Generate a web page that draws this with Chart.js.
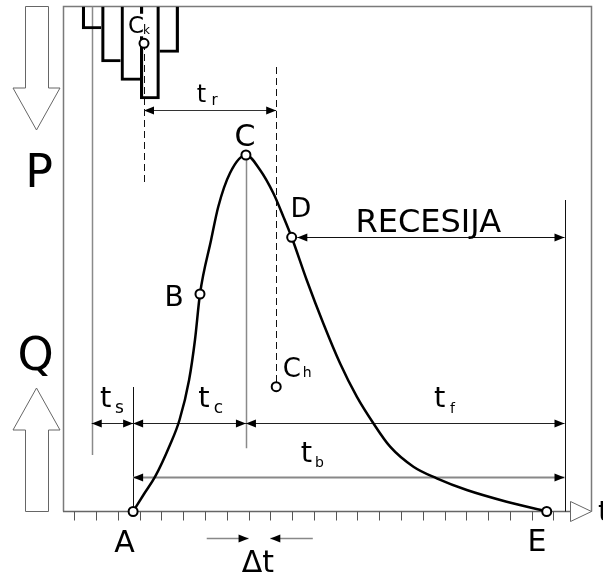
<!DOCTYPE html>
<html>
<head>
<meta charset="utf-8">
<script src="https://cdn.jsdelivr.net/npm/chart.js@4.4.0/dist/chart.umd.min.js"></script>
<style>
  html, body { margin: 0; padding: 0; background: #fff; }
  #wrap { width: 603px; height: 576px; }
</style>
</head>
<body>
<div id="wrap"><canvas id="myChart" width="603" height="576"></canvas></div>
<script>
// Hydrograph Q(t): x in time steps (one tick = dt), y in relative units
const curveX = [2.70, 3.20, 3.71, 4.39, 4.83, 5.27, 5.54, 5.77, 6.28, 6.61, 7.15, 7.88,
                8.53, 9.14, 9.60, 9.98, 10.67, 11.43, 12.20, 12.97, 13.73, 14.50, 15.57, 16.64, 18.02, 19.85, 21.69];
const curveY = [0, 3.5, 6.96, 13.3, 18.3, 26.3, 34.3, 43.5, 54.3, 60.96, 67.7, 71.3,
                68.3, 63.64, 58.96, 54.84, 46.3, 37.64, 29.64, 22.96, 17.64, 12.96, 8.96, 6.64, 4.3, 1.96, 0];

// characteristic points on the hydrograph
const pointNames = ['A', 'B', 'C', 'D', 'E'];
const pointX = [2.70, 5.77, 7.88, 9.98, 21.69];
const pointY = [0, 43.5, 71.3, 54.84, 0];

// rainfall P hanging from the top of the frame
const rainX = [0.80, 1.69, 2.58, 3.47, 4.35];
const rainDepth = [4.5, 11.1, 14.8, 18.5, 9.2];
const TOP = 101;

// centroids of rainfall (Ck) and of runoff (Ch)
const centroidNames = ['Ck', 'Ch'];
const centroidX = [3.20, 9.27];
const centroidY = [93.64, 24.96];

// time axis ticks
const tickValues = [0, 1, 2, 3, 4, 5, 6, 7, 8, 9, 10, 11, 12, 13, 14, 15, 16, 17, 18, 19, 20, 21, 22];

// guide lines and dimension arrows (data units)
const xEnd = 22.507;
const vLines = [
  { x: 0.80, y0: 11.3, y1: TOP, color: '#8a8a8a', w: 1.5 },
  { x: pointX[0], y0: 0, y1: 24.9, color: '#111', w: 1 },
  { x: pointX[2], y0: 12.64, y1: pointY[2], color: '#8a8a8a', w: 1.5 },
  { x: xEnd, y0: 0, y1: 62.3, color: '#111', w: 1 },
  { x: centroidX[0], y0: 65.9, y1: 92.7, color: '#111', w: 1, dash: true },
  { x: centroidX[1], y0: 25.9, y1: 89.3, color: '#111', w: 1, dash: true }
];
const hArrows = [
  { y: 80.3, x0: centroidX[0], x1: centroidX[1], color: '#333', w: 1, both: true },
  { y: 54.84, x0: 10.24, x1: xEnd, color: '#111', w: 1, both: true },
  { y: 17.64, x0: 0.80, x1: pointX[0], color: '#222', w: 1, both: true },
  { y: 17.64, x0: pointX[0], x1: pointX[2], color: '#222', w: 1, both: true },
  { y: 17.64, x0: pointX[2], x1: xEnd, color: '#222', w: 1, both: true },
  { y: 6.96, x0: pointX[0], x1: xEnd, color: '#888', w: 2, both: true },
  { y: -5.24, x0: 6.08, x1: 8, color: '#888', w: 1.5, both: false },
  { y: -5.24, x0: 10.95, x1: 9, color: '#888', w: 1.5, both: false }
];
const labels = [
  { t: 'P', x: -1.612, y: 64.96, size: 46, align: 'center' },
  { t: 'Q', x: -1.781, y: 28.36, size: 46, align: 'center' },
  { t: 'A', x: 2.305, y: -8.0, size: 30, align: 'center' },
  { t: 'E', x: 21.244, y: -7.9, size: 30, align: 'center' },
  { t: 'C', x: 7.837, y: 73.1, size: 30, align: 'center' },
  { t: 'B', x: 4.577, y: 41.16, size: 28, align: 'center' },
  { t: 'D', x: 10.409, y: 58.96, size: 27, align: 'center' },
  { t: 'RECESIJA', x: 16.253, y: 55.96, size: 32, align: 'center' },
  { t: 'C', sub: 'k', x: 2.466, y: 95.64, size: 23, subSize: 12, dx: -1, dy: 0.7, box: true },
  { t: 'C', sub: 'h', x: 9.573, y: 26.96, size: 26, subSize: 14, dx: 1.9, dy: 0 },
  { t: 't', sub: 'r', x: 5.62, y: 81.96, size: 24, subSize: 15, dx: 5.5, dy: 3.3 },
  { t: 't', sub: 's', x: 1.180, y: 20.96, size: 29, subSize: 17, dx: 3.6, dy: 6 },
  { t: 't', sub: 'c', x: 5.693, y: 20.96, size: 29, subSize: 17, dx: 4, dy: 6 },
  { t: 't', sub: 'f', x: 16.515, y: 20.96, size: 29, subSize: 14, dx: 4.6, dy: 6.3 },
  { t: 't', sub: 'b', x: 10.395, y: 9.96, size: 29, subSize: 14, dx: 3, dy: 5 },
  { t: '\u0394t', x: 7.686, y: -12.04, size: 30 },
  { t: 't', x: 24.045, y: -1.9, size: 29 }
];

const FONT = '"DejaVu Sans", Verdana, sans-serif';

function rainBorder(i) {
  const n = rainDepth.length;
  const w = 2.5;
  const left = (i === 0 || rainDepth[i] >= rainDepth[i - 1]) ? w : 0;
  const right = (i === n - 1 || rainDepth[i] > rainDepth[i + 1]) ? w : 0;
  return { top: 0, bottom: w, left: left, right: right };
}

function head(ctx, x, y, dir) {
  ctx.beginPath();
  ctx.moveTo(x, y);
  ctx.lineTo(x - dir * 10, y - 4);
  ctx.lineTo(x - dir * 10, y + 4);
  ctx.closePath();
  ctx.fillStyle = '#000';
  ctx.fill();
}

const hydroPlugin = {
  id: 'hydro',
  beforeDatasetsDraw(chart) {
    const ctx = chart.ctx;
    const xs = chart.scales.x, ys = chart.scales.y;
    const X = v => xs.getPixelForValue(v);
    const Y = v => ys.getPixelForValue(v);
    const a = chart.chartArea;
    ctx.save();
    // frame
    ctx.strokeStyle = '#7a7a7a';
    ctx.lineWidth = 1.5;
    ctx.beginPath();
    ctx.moveTo(a.left + 0.5, Y(0));
    ctx.lineTo(a.left + 0.5, a.top);
    ctx.lineTo(a.right, a.top);
    ctx.lineTo(a.right, Y(0));
    ctx.stroke();
    // time axis
    ctx.strokeStyle = '#666';
    ctx.beginPath();
    ctx.moveTo(a.left, Y(0));
    ctx.lineTo(a.right - 21, Y(0));
    ctx.stroke();
    ctx.lineWidth = 1;
    ctx.strokeStyle = '#555';
    tickValues.forEach(v => {
      const px = Math.round(X(v)) + 0.5;
      ctx.beginPath();
      ctx.moveTo(px, Y(0));
      ctx.lineTo(px, Y(0) + 9);
      ctx.stroke();
    });
    // vertical guides
    vLines.forEach(l => {
      ctx.strokeStyle = l.color;
      ctx.lineWidth = l.w;
      ctx.setLineDash(l.dash ? [7, 4] : []);
      const px = Math.round(X(l.x)) + 0.5;
      ctx.beginPath();
      ctx.moveTo(px, Y(l.y0));
      ctx.lineTo(px, Y(l.y1));
      ctx.stroke();
    });
    ctx.setLineDash([]);
    // dimension arrows
    hArrows.forEach(h => {
      const py = Math.round(Y(h.y)) + 0.5;
      const p0 = X(h.x0), p1 = X(h.x1);
      ctx.strokeStyle = h.color;
      ctx.lineWidth = h.w;
      ctx.beginPath();
      ctx.moveTo(p0, py);
      ctx.lineTo(p1, py);
      ctx.stroke();
      const d = Math.sign(p1 - p0);
      head(ctx, p1, py, d);
      if (h.both) head(ctx, p0, py, -d);
    });
    ctx.restore();
  },
  afterDatasetsDraw(chart) {
    const ctx = chart.ctx;
    const xs = chart.scales.x, ys = chart.scales.y;
    const X = v => xs.getPixelForValue(v);
    const Y = v => ys.getPixelForValue(v);
    const a = chart.chartArea;
    ctx.save();
    // axis arrow head (hollow)
    ctx.strokeStyle = '#666';
    ctx.lineWidth = 1;
    ctx.beginPath();
    ctx.moveTo(a.right - 21, Y(0) - 10);
    ctx.lineTo(a.right, Y(0));
    ctx.lineTo(a.right - 21, Y(0) + 10);
    ctx.closePath();
    ctx.stroke();
    // big P (down) and Q (up) arrows left of the frame
    const L = a.left;
    const sl = L - 38, sr = L - 15, hl = L - 50, hr = L - 3, tip = L - 26.5;
    ctx.beginPath();
    ctx.moveTo(sl + 0.5, a.top);
    ctx.lineTo(sr + 0.5, a.top);
    ctx.lineTo(sr + 0.5, Y(84.7));
    ctx.lineTo(hr, Y(84.7));
    ctx.lineTo(tip, Y(76.3));
    ctx.lineTo(hl, Y(84.7));
    ctx.lineTo(sl + 0.5, Y(84.7));
    ctx.closePath();
    ctx.stroke();
    ctx.beginPath();
    ctx.moveTo(sl + 0.5, Y(0));
    ctx.lineTo(sr + 0.5, Y(0));
    ctx.lineTo(sr + 0.5, Y(16.3));
    ctx.lineTo(hr, Y(16.3));
    ctx.lineTo(tip, Y(24.7));
    ctx.lineTo(hl, Y(16.3));
    ctx.lineTo(sl + 0.5, Y(16.3));
    ctx.closePath();
    ctx.stroke();
    // labels
    ctx.fillStyle = '#000';
    ctx.textBaseline = 'alphabetic';
    labels.forEach(l => {
      ctx.font = l.size + 'px ' + FONT;
      const w = ctx.measureText(l.t).width;
      let left = X(l.x);
      if (l.align === 'center') left -= w / 2;
      const base = Y(l.y);
      let sw = 0;
      if (l.sub) {
        ctx.font = l.subSize + 'px ' + FONT;
        sw = ctx.measureText(l.sub).width;
      }
      if (l.box) {
        ctx.fillStyle = '#fff';
        ctx.fillRect(left - 2, base - l.size * 0.85, w + sw + l.dx + 4, l.size * 0.85 + 3);
        ctx.fillStyle = '#000';
      }
      ctx.font = l.size + 'px ' + FONT;
      ctx.textAlign = 'left';
      ctx.fillText(l.t, left, base);
      if (l.sub) {
        ctx.font = l.subSize + 'px ' + FONT;
        ctx.fillText(l.sub, left + w + l.dx, base + l.dy);
      }
    });
    ctx.restore();
  }
};

const ctx = document.getElementById('myChart').getContext('2d');
new Chart(ctx, {
  type: 'bar',
  data: {
    datasets: [
      {
        type: 'bar',
        label: 'P',
        data: rainX.map((x, i) => ({ x: x, y: [TOP - rainDepth[i], TOP] })),
        borderColor: '#000',
        backgroundColor: 'rgba(0,0,0,0)',
        borderSkipped: false,
        borderWidth: c => rainBorder(c.dataIndex),
        barPercentage: 1,
        categoryPercentage: 1,
        order: 3
      },
      {
        type: 'line',
        label: 'Q',
        data: curveX.map((x, i) => ({ x: x, y: curveY[i] })),
        borderColor: '#000',
        borderWidth: 2.5,
        pointRadius: 0,
        cubicInterpolationMode: 'monotone',
        fill: false,
        clip: false,
        order: 2
      },
      {
        type: 'scatter',
        label: 'points',
        data: pointNames.map((n, i) => ({ x: pointX[i], y: pointY[i] })),
        pointRadius: 4.5,
        pointBorderWidth: 2,
        pointBorderColor: '#000',
        pointBackgroundColor: '#fff',
        clip: false,
        order: 1
      },
      {
        type: 'scatter',
        label: 'centroids',
        data: centroidNames.map((n, i) => ({ x: centroidX[i], y: centroidY[i] })),
        pointRadius: 4.5,
        pointBorderWidth: 2,
        pointBorderColor: '#000',
        pointBackgroundColor: '#fff',
        clip: false,
        order: 0
      }
    ]
  },
  options: {
    responsive: false,
    animation: false,
    devicePixelRatio: 1,
    layout: { padding: { left: 63, top: 6.5, right: 11.5, bottom: 64.5 } },
    plugins: { legend: { display: false }, tooltip: { enabled: false } },
    scales: {
      x: { type: 'linear', display: false, offset: false, min: -0.519, max: 23.746 },
      y: { type: 'linear', display: false, min: 0, max: TOP }
    }
  },
  plugins: [hydroPlugin]
});
</script>
</body>
</html>
